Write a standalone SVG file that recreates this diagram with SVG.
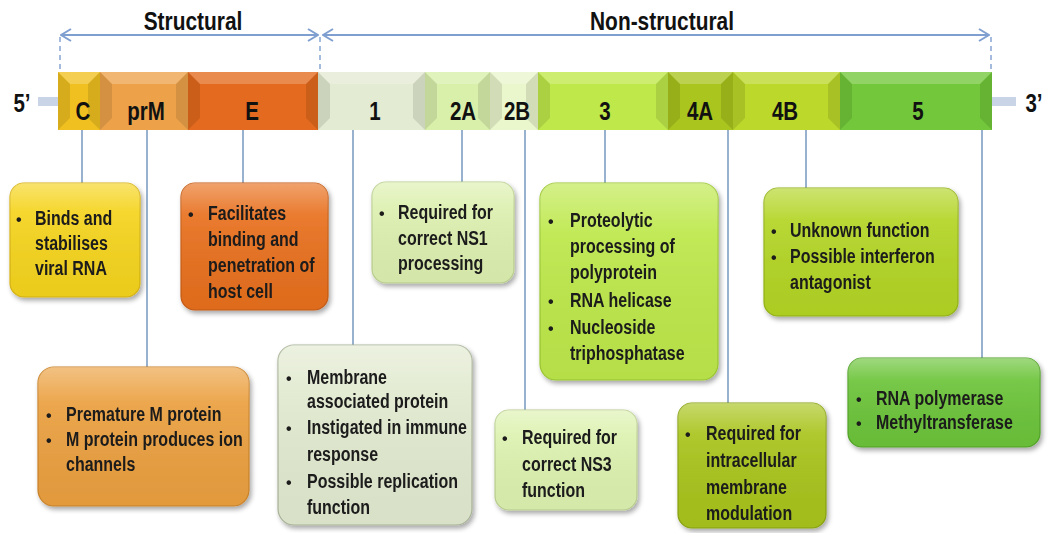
<svg xmlns="http://www.w3.org/2000/svg" width="1053" height="533" viewBox="0 0 1053 533">
<defs>
<style>
.t{font-family:"Liberation Sans",Arial,sans-serif;font-weight:bold;font-size:19.5px;fill:#1a1a1a}
.b{font-family:"Liberation Sans",Arial,sans-serif;font-weight:bold;font-size:16px;fill:#1a1a1a}
.seg{font-family:"Liberation Sans",Arial,sans-serif;font-weight:bold;font-size:25px;fill:#111;text-anchor:middle}
.hdr{font-family:"Liberation Sans",Arial,sans-serif;font-weight:bold;font-size:25.5px;fill:#111;text-anchor:middle}
.con{stroke:#7d9ec2;stroke-width:1.6;fill:none}
.dash{stroke:#7f9fd0;stroke-width:1.4;stroke-dasharray:5,4;fill:none}
.arr{stroke:#7f9fd0;stroke-width:2;fill:none}
.box{stroke-width:1.2}
.hl{fill:#fff;opacity:0.22}
.dk{fill:#000;opacity:0.10}
</style>
<filter id="sh" x="-10%" y="-10%" width="125%" height="125%">
<feGaussianBlur in="SourceAlpha" stdDeviation="2.5"/>
<feOffset dx="2" dy="3"/>
<feComponentTransfer><feFuncA type="linear" slope="0.35"/></feComponentTransfer>
<feMerge><feMergeNode/><feMergeNode in="SourceGraphic"/></feMerge>
</filter>
<linearGradient id="gl" x1="0" y1="0" x2="0" y2="1">
<stop offset="0" stop-color="#fff" stop-opacity="0.35"/>
<stop offset="0.25" stop-color="#fff" stop-opacity="0.08"/>
<stop offset="1" stop-color="#000" stop-opacity="0.04"/>
</linearGradient>
<marker id="ah" viewBox="0 0 12 14" refX="11" refY="7" markerWidth="12" markerHeight="14" markerUnits="userSpaceOnUse" orient="auto-start-reverse">
<path d="M1,1 L11,7 L1,13" fill="none" stroke="#7f9fd0" stroke-width="2"/>
</marker>
</defs>
<rect width="1053" height="533" fill="#fff"/>

<g id="headers">
<text class="hdr" transform="translate(193,30) scale(0.82,1)">Structural</text>
<text class="hdr" transform="translate(662,30) scale(0.82,1)">Non-structural</text>
<line class="arr" x1="61" y1="35" x2="318" y2="35" marker-start="url(#ah)" marker-end="url(#ah)"/>
<line class="arr" x1="323" y1="35" x2="989" y2="35" marker-start="url(#ah)" marker-end="url(#ah)"/>
<line class="dash" x1="60" y1="37" x2="60" y2="72"/>
<line class="dash" x1="320" y1="37" x2="320" y2="72"/>
<line class="dash" x1="991" y1="37" x2="991" y2="72"/>
</g>

<g id="genome">
<rect x="38" y="97" width="22" height="9" fill="#c9d5e6"/>
<rect x="990" y="97" width="26" height="9" fill="#c9d5e6"/>
<text class="seg" transform="translate(22,112) scale(0.82,1)">5’</text>
<text class="seg" transform="translate(1034,112) scale(0.82,1)">3’</text>
</g>

<g id="seg-C">
<rect x="58" y="72" width="42" height="58" fill="#f0c020"/>
<polygon class="hl" points="58,72 100,72 88,84 70,84"/>
<polygon class="dk" points="58,72 70,84 70,118 58,130"/>
<polygon class="dk" points="100,72 88,84 88,118 100,130"/>
<text class="seg" transform="translate(83,120) scale(0.82,1)">C</text>
</g>
<g id="seg-prM">
<rect x="100" y="72" width="88" height="58" fill="#eda24a"/>
<polygon class="hl" points="100,72 188,72 176,84 112,84"/>
<polygon class="dk" points="100,72 112,84 112,118 100,130"/>
<polygon class="dk" points="188,72 176,84 176,118 188,130"/>
<text class="seg" transform="translate(146,120) scale(0.82,1)">prM</text>
</g>
<g id="seg-E">
<rect x="188" y="72" width="130" height="58" fill="#e36a1e"/>
<polygon class="hl" points="188,72 318,72 306,84 200,84"/>
<polygon class="dk" points="188,72 200,84 200,118 188,130"/>
<polygon class="dk" points="318,72 306,84 306,118 318,130"/>
<text class="seg" transform="translate(252,120) scale(0.82,1)">E</text>
</g>
<g id="seg-1">
<rect x="318" y="72" width="107" height="58" fill="#e3ebd3"/>
<polygon class="hl" points="318,72 425,72 413,84 330,84"/>
<polygon class="dk" points="318,72 330,84 330,118 318,130"/>
<polygon class="dk" points="425,72 413,84 413,118 425,130"/>
<text class="seg" transform="translate(375,120) scale(0.82,1)">1</text>
</g>
<g id="seg-2A">
<rect x="425" y="72" width="65" height="58" fill="#d9f0ab"/>
<polygon class="hl" points="425,72 490,72 478,84 437,84"/>
<polygon class="dk" points="425,72 437,84 437,118 425,130"/>
<polygon class="dk" points="490,72 478,84 478,118 490,130"/>
<text class="seg" transform="translate(463,120) scale(0.82,1)">2A</text>
</g>
<g id="seg-2B">
<rect x="490" y="72" width="48" height="58" fill="#eaf7cd"/>
<polygon class="hl" points="490,72 538,72 526,84 502,84"/>
<polygon class="dk" points="490,72 502,84 502,118 490,130"/>
<polygon class="dk" points="538,72 526,84 526,118 538,130"/>
<text class="seg" transform="translate(517,120) scale(0.82,1)">2B</text>
</g>
<g id="seg-3">
<rect x="538" y="72" width="130" height="58" fill="#bfe84a"/>
<polygon class="hl" points="538,72 668,72 656,84 550,84"/>
<polygon class="dk" points="538,72 550,84 550,118 538,130"/>
<polygon class="dk" points="668,72 656,84 656,118 668,130"/>
<text class="seg" transform="translate(605,120) scale(0.82,1)">3</text>
</g>
<g id="seg-4A">
<rect x="668" y="72" width="65" height="58" fill="#a9c51e"/>
<polygon class="hl" points="668,72 733,72 721,84 680,84"/>
<polygon class="dk" points="668,72 680,84 680,118 668,130"/>
<polygon class="dk" points="733,72 721,84 721,118 733,130"/>
<text class="seg" transform="translate(700,120) scale(0.82,1)">4A</text>
</g>
<g id="seg-4B">
<rect x="733" y="72" width="107" height="58" fill="#bcd82a"/>
<polygon class="hl" points="733,72 840,72 828,84 745,84"/>
<polygon class="dk" points="733,72 745,84 745,118 733,130"/>
<polygon class="dk" points="840,72 828,84 828,118 840,130"/>
<text class="seg" transform="translate(785,120) scale(0.82,1)">4B</text>
</g>
<g id="seg-5">
<rect x="840" y="72" width="152" height="58" fill="#72c83a"/>
<polygon class="hl" points="840,72 992,72 980,84 852,84"/>
<polygon class="dk" points="840,72 852,84 852,118 840,130"/>
<polygon class="dk" points="992,72 980,84 980,118 992,130"/>
<text class="seg" transform="translate(918,120) scale(0.82,1)">5</text>
</g>

<g id="connectors">
<line class="con" x1="82" y1="130" x2="82" y2="183"/>
<line class="con" x1="147" y1="130" x2="147" y2="367"/>
<line class="con" x1="243" y1="130" x2="243" y2="183"/>
<line class="con" x1="353" y1="130" x2="353" y2="345"/>
<line class="con" x1="462" y1="130" x2="462" y2="182"/>
<line class="con" x1="525" y1="130" x2="525" y2="410"/>
<line class="con" x1="605" y1="130" x2="605" y2="183"/>
<line class="con" x1="728" y1="130" x2="728" y2="403"/>
<line class="con" x1="806" y1="130" x2="806" y2="188"/>
<line class="con" x1="982" y1="130" x2="982" y2="358"/>
</g>

<g id="box-C" filter="url(#sh)">
<rect class="box" x="10" y="183" width="130" height="114" rx="14" fill="#f5d41e" stroke="#d8b414"/>
<rect x="10" y="183" width="130" height="114" rx="14" fill="url(#gl)"/>
<text class="b" x="16" y="225">•</text>
<g transform="translate(35,0) scale(0.82,1)">
<text class="t" y="225">Binds and</text>
<text class="t" y="250">stabilises</text>
<text class="t" y="275">viral RNA</text>
</g>
</g>

<g id="box-E" filter="url(#sh)">
<rect class="box" x="181" y="183" width="147" height="127" rx="14" fill="#e8701e" stroke="#c65c14"/>
<rect x="181" y="183" width="147" height="127" rx="14" fill="url(#gl)"/>
<text class="b" x="188" y="220">•</text>
<g transform="translate(208,0) scale(0.82,1)">
<text class="t" y="220">Facilitates</text>
<text class="t" y="246">binding and</text>
<text class="t" y="272">penetration of</text>
<text class="t" y="298">host cell</text>
</g>
</g>

<g id="box-2A" filter="url(#sh)">
<rect class="box" x="372" y="182" width="142" height="101" rx="14" fill="#ddf0b0" stroke="#bcd092"/>
<rect x="372" y="182" width="142" height="101" rx="14" fill="url(#gl)"/>
<text class="b" x="379" y="219">•</text>
<g transform="translate(398,0) scale(0.82,1)">
<text class="t" y="219">Required for</text>
<text class="t" y="245">correct NS1</text>
<text class="t" y="270">processing</text>
</g>
</g>

<g id="box-3" filter="url(#sh)">
<rect class="box" x="540" y="183" width="178" height="197" rx="16" fill="#bde84a" stroke="#9cc832"/>
<rect x="540" y="183" width="178" height="197" rx="16" fill="url(#gl)"/>
<text class="b" x="548" y="227">•</text>
<text class="b" x="548" y="307">•</text>
<text class="b" x="548" y="334">•</text>
<g transform="translate(570,0) scale(0.82,1)">
<text class="t" y="227">Proteolytic</text>
<text class="t" y="253">processing of</text>
<text class="t" y="279">polyprotein</text>
<text class="t" y="307">RNA helicase</text>
<text class="t" y="334">Nucleoside</text>
<text class="t" y="360">triphosphatase</text>
</g>
</g>

<g id="box-4B" filter="url(#sh)">
<rect class="box" x="764" y="188" width="194" height="128" rx="14" fill="#b3d525" stroke="#94b418"/>
<rect x="764" y="188" width="194" height="128" rx="14" fill="url(#gl)"/>
<text class="b" x="771" y="237">•</text>
<text class="b" x="771" y="263">•</text>
<g transform="translate(790,0) scale(0.82,1)">
<text class="t" y="237">Unknown function</text>
<text class="t" y="263">Possible interferon</text>
<text class="t" y="289">antagonist</text>
</g>
</g>

<g id="box-prM" filter="url(#sh)">
<rect class="box" x="38" y="367" width="211" height="139" rx="16" fill="#eba040" stroke="#cc8428"/>
<rect x="38" y="367" width="211" height="139" rx="16" fill="url(#gl)"/>
<text class="b" x="46" y="421">•</text>
<text class="b" x="46" y="446">•</text>
<g transform="translate(66,0) scale(0.82,1)">
<text class="t" y="421">Premature M protein</text>
<text class="t" y="446">M protein produces ion</text>
<text class="t" y="471">channels</text>
</g>
</g>

<g id="box-1" filter="url(#sh)">
<rect class="box" x="278" y="345" width="194" height="180" rx="16" fill="#e2ead0" stroke="#aab59a"/>
<rect x="278" y="345" width="194" height="180" rx="16" fill="url(#gl)"/>
<text class="b" x="286" y="384">•</text>
<text class="b" x="286" y="434">•</text>
<text class="b" x="286" y="488">•</text>
<g transform="translate(307,0) scale(0.82,1)">
<text class="t" y="384">Membrane</text>
<text class="t" y="408">associated protein</text>
<text class="t" y="434">Instigated in immune</text>
<text class="t" y="461">response</text>
<text class="t" y="488">Possible replication</text>
<text class="t" y="514">function</text>
</g>
</g>

<g id="box-2B" filter="url(#sh)">
<rect class="box" x="495" y="410" width="142" height="100" rx="14" fill="#ddf2b0" stroke="#bcd092"/>
<rect x="495" y="410" width="142" height="100" rx="14" fill="url(#gl)"/>
<text class="b" x="502" y="444">•</text>
<g transform="translate(522,0) scale(0.82,1)">
<text class="t" y="444">Required for</text>
<text class="t" y="471">correct NS3</text>
<text class="t" y="497">function</text>
</g>
</g>

<g id="box-4A" filter="url(#sh)">
<rect class="box" x="678" y="403" width="148" height="125" rx="14" fill="#a8c41c" stroke="#8aa412"/>
<rect x="678" y="403" width="148" height="125" rx="14" fill="url(#gl)"/>
<text class="b" x="685" y="440">•</text>
<g transform="translate(706,0) scale(0.82,1)">
<text class="t" y="440">Required for</text>
<text class="t" y="467">intracellular</text>
<text class="t" y="494">membrane</text>
<text class="t" y="520">modulation</text>
</g>
</g>

<g id="box-5" filter="url(#sh)">
<rect class="box" x="848" y="358" width="192" height="89" rx="14" fill="#6cc43a" stroke="#52a428"/>
<rect x="848" y="358" width="192" height="89" rx="14" fill="url(#gl)"/>
<text class="b" x="856" y="405">•</text>
<text class="b" x="856" y="429">•</text>
<g transform="translate(876,0) scale(0.82,1)">
<text class="t" y="405">RNA polymerase</text>
<text class="t" y="429">Methyltransferase</text>
</g>
</g>
</svg>
